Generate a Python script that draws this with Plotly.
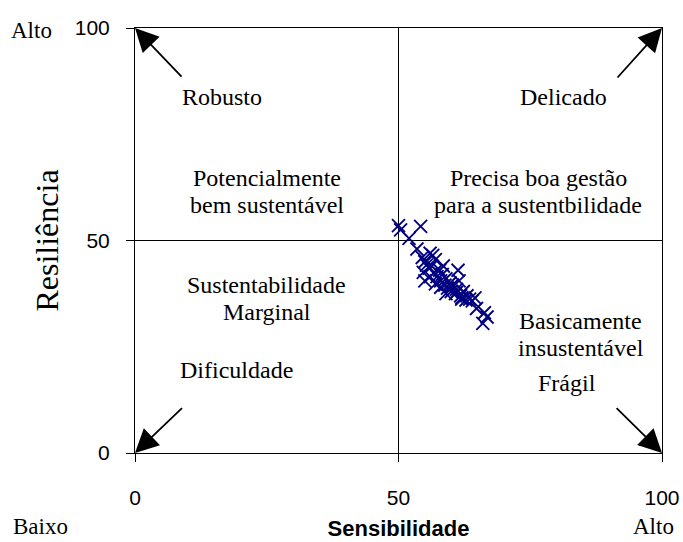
import plotly.graph_objects as go

# sensibilidade (x) / resiliência (y)
sens = [50.0, 50.4, 54.2, 52.0, 53.5,
        54.5, 55.0, 55.3, 55.8, 56.0, 56.3, 56.8, 57.0, 57.3, 57.8,
        58.0, 58.3, 58.8, 59.0, 59.3, 59.8, 60.0, 60.3, 60.8, 61.0,
        61.3, 61.8, 62.0, 62.3, 62.8, 63.0, 63.5, 64.0, 64.5, 55.0,
        56.0, 57.0, 58.0, 59.0, 60.0, 61.0, 62.0, 54.7, 56.5, 61.5,
        66.3, 66.8, 66.0, 64.8, 58.5]
resil = [53.5, 52.5, 53.3, 50.5, 48.0,
         46.0, 45.0, 44.2, 43.5, 47.0, 44.0, 42.5, 45.5, 41.5, 43.0,
         40.5, 42.0, 39.5, 41.0, 38.8, 40.0, 38.0, 39.5, 37.5, 38.5,
         43.0, 37.0, 36.5, 38.0, 36.0, 37.0, 36.2, 35.8, 36.5, 40.5,
         41.5, 39.8, 39.0, 37.5, 39.2, 37.8, 36.2, 42.5, 46.5, 40.5,
         33.0, 32.0, 30.5, 34.0, 44.0]

tick_vals = [0, 50, 100]
quadrant_labels = ["Robusto", "Delicado", "Potencialmente<br>bem sustentável",
                   "Precisa boa gestão<br>para a sustentbilidade",
                   "Sustentabilidade<br>Marginal", "Dificuldade",
                   "Basicamente<br>insustentável", "Frágil"]
label_x = [16.5, 81.4, 25.0, 76.5, 25.0, 19.2, 84.6, 82.0]
label_y = [83.8, 83.8, 61.5, 61.5, 36.4, 19.5, 27.8, 16.5]

# arrows: tail -> corner
arrow_tail = [(9.1, 88.2), (91.3, 88.0), (9.2, 10.9), (91.1, 10.9)]
arrow_head = [(0, 100), (100, 100), (0, 0), (100, 0)]

# Alto / Baixo words, paper fractions (outside the plot area)
corner_words = ["Alto", "Baixo", "Alto"]
corner_x = [-0.197, -0.180, 0.983]
corner_y = [0.995, -0.174, -0.174]

serif = "Liberation Serif, Times New Roman, serif"
sans = "Liberation Sans, Arial, sans-serif"
line_gap = 27  # px between lines of the two-line labels

fig = go.Figure()
fig.add_trace(go.Scatter(
    x=sens, y=resil, mode="markers",
    marker=dict(symbol="x-thin", size=13, color="#000080",
                line=dict(color="#000080", width=1.8)),
    showlegend=False, cliponaxis=False))

# quadrant divider lines at 50
fig.add_shape(type="line", x0=50, x1=50, y0=0, y1=100, xref="x", yref="y",
              line=dict(color="black", width=1), layer="below")
fig.add_shape(type="line", x0=0, x1=100, y0=50, y1=50, xref="x", yref="y",
              line=dict(color="black", width=1), layer="below")

# each line placed separately to get the tighter line spacing of the original
for txt, lx, ly in zip(quadrant_labels, label_x, label_y):
    lines = txt.split("<br>")
    n = len(lines)
    for i, line in enumerate(lines):
        fig.add_annotation(x=lx, y=ly, text=line, showarrow=False,
                           yshift=((n - 1) / 2 - i) * line_gap,
                           font=dict(family=serif, size=24, color="black"))

for (tx, ty), (hx, hy) in zip(arrow_tail, arrow_head):
    fig.add_annotation(x=hx, y=hy, ax=tx, ay=ty, xref="x", yref="y",
                       axref="x", ayref="y", text="", showarrow=True,
                       arrowhead=2, arrowsize=2.6, arrowwidth=1.8,
                       arrowcolor="black", standoff=0)

for txt, cx, cy in zip(corner_words, corner_x, corner_y):
    fig.add_annotation(x=cx, y=cy, xref="paper", yref="paper", text=txt,
                       showarrow=False, xanchor="center", yanchor="middle",
                       font=dict(family=serif, size=23, color="black"))

fig.update_layout(
    width=683, height=542,
    margin=dict(l=135, r=21, t=28, b=89),
    plot_bgcolor="white", paper_bgcolor="white",
    font=dict(family=sans, size=21, color="black"),
    xaxis=dict(range=[0, 100], tickvals=tick_vals, ticks="outside",
               ticklen=8, tickcolor="black", showgrid=False, zeroline=False,
               showline=True, linecolor="black", linewidth=1, mirror=True,
               ticklabelstandoff=18, automargin=False,
               title=dict(text="<b>Sensibilidade</b>", standoff=12,
                          font=dict(family=sans, size=22))),
    yaxis=dict(range=[0, 100], tickvals=tick_vals, ticks="outside",
               ticklen=8, tickcolor="black", showgrid=False, zeroline=False,
               showline=True, linecolor="black", linewidth=1, mirror=True,
               ticklabelstandoff=12, automargin=False,
               title=dict(text="Resiliência", standoff=6,
                          font=dict(family=serif, size=32))),
)

# page body has a default 8px margin; drop it so the figure fills the window
fig.write_html("out.html", config={"displayModeBar": False},
               post_script="document.body.style.margin='0';")
